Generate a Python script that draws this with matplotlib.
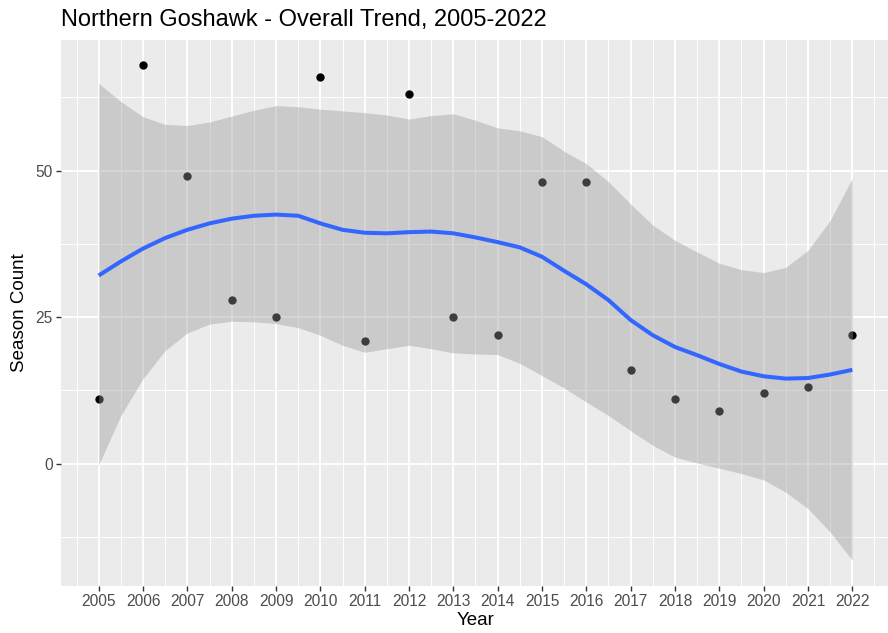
import matplotlib
matplotlib.use("Agg")
import matplotlib.pyplot as plt
import numpy as np

plt.rcParams["font.family"] = ["Liberation Sans", "DejaVu Sans"]

# observed season counts
years = [2005, 2006, 2007, 2008, 2009, 2010, 2011, 2012, 2013,
         2014, 2015, 2016, 2017, 2018, 2019, 2020, 2021, 2022]
counts = [11, 68, 49, 28, 25, 66, 21, 63, 25, 22, 48, 48, 16, 11, 9, 12, 13, 22]

# loess fit (half-year steps)
fit_years = [2005.0, 2005.5, 2006.0, 2006.5, 2007.0, 2007.5, 2008.0, 2008.5,
             2009.0, 2009.5, 2010.0, 2010.5, 2011.0, 2011.5, 2012.0, 2012.5,
             2013.0, 2013.5, 2014.0, 2014.5, 2015.0, 2015.5, 2016.0, 2016.5,
             2017.0, 2017.5, 2018.0, 2018.5, 2019.0, 2019.5, 2020.0, 2020.5,
             2021.0, 2021.5, 2022.0]
fit = [32.1, 34.5, 36.7, 38.5, 39.9, 41.0, 41.8, 42.3, 42.5, 42.3, 41.0, 39.9,
       39.4, 39.3, 39.5, 39.6, 39.3, 38.6, 37.8, 36.9, 35.3, 32.9, 30.6, 27.9,
       24.5, 21.9, 19.9, 18.5, 17.0, 15.7, 14.9, 14.5, 14.6, 15.2, 16.0]
fit_upper = [64.9, 61.8, 59.2, 57.9, 57.7, 58.3, 59.3, 60.3, 61.1, 60.9, 60.5, 60.2,
             59.9, 59.5, 58.8, 59.4, 59.7, 58.6, 57.3, 56.8, 55.8, 53.3, 51.2, 48.1,
             44.3, 40.7, 38.1, 36.1, 34.2, 33.1, 32.6, 33.5, 36.4, 41.5, 48.7]
fit_lower = [-0.2, 8.2, 14.5, 19.3, 22.3, 23.8, 24.3, 24.2, 23.9, 23.2, 21.9, 20.2,
             19.0, 19.6, 20.2, 19.6, 18.9, 18.7, 18.6, 17.1, 15.0, 12.9, 10.5, 8.2,
             5.6, 3.1, 1.1, 0.1, -0.8, -1.7, -2.8, -4.9, -7.7, -11.7, -16.5]

y_ticks = [0, 25, 50]

fig = plt.figure(figsize=(8.88, 6.33), dpi=100)
ax = fig.add_axes([61 / 888, 47 / 633, 829 / 888, 546 / 633])
ax.set_facecolor("#EBEBEB")

# ggplot-like grid
ax.set_xticks(years)
ax.set_xticks([y + 0.5 for y in years[:-1]] + [years[0] - 0.5, years[-1] + 0.5], minor=True)
ax.set_yticks(y_ticks)
ax.set_yticks([-12.5, 12.5, 37.5, 62.5], minor=True)
ax.grid(which="major", color="white", linewidth=1.4)
ax.grid(which="minor", color="white", linewidth=0.7)
ax.set_axisbelow(True)
for s in ax.spines.values():
    s.set_visible(False)

ax.scatter(years, counts, s=36, color="black", zorder=2, linewidths=0)
ax.fill_between(fit_years, fit_lower, fit_upper, color="#999999", alpha=0.4,
                linewidth=0, zorder=3)
ax.plot(fit_years, fit, color="#3366FF", linewidth=2.9, zorder=4,
        solid_capstyle="butt", solid_joinstyle="round")

ax.set_xlim(2004.15, 2022.85)
ax.set_ylim(-20.9, 72.3)

ax.tick_params(which="major", length=3.5, width=1.0, color="#333333",
               labelsize=11.2, labelcolor="#4D4D4D", pad=2.5)
ax.tick_params(which="minor", length=0)

ax.set_xlabel("Year", fontsize=13.5, color="black", labelpad=2)
ax.set_ylabel("Season Count", fontsize=13.5, color="black", labelpad=5)
fig.text(61 / 888, 1 - 26 / 633, "Northern Goshawk - Overall Trend, 2005-2022",
         fontsize=17, color="black", ha="left", va="baseline")

fig.savefig("out.png", dpi=100)
